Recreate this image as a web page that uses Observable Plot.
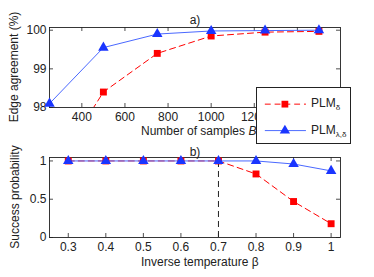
<!DOCTYPE html>
<html><head><meta charset="utf-8">
<script src="https://cdn.jsdelivr.net/npm/d3@7"></script>
<script src="https://cdn.jsdelivr.net/npm/@observablehq/plot@0.6"></script>
<style>
body{margin:0;background:#fff;}
#wrap{position:relative;width:374px;height:277px;overflow:hidden;font-family:"Liberation Sans",Arial,sans-serif;}
#wrap svg{position:absolute;left:0;}
.lbl{position:absolute;font-size:12px;color:#222;white-space:nowrap;}
#legend{position:absolute;left:256px;top:87px;width:95px;height:57px;border:1px solid #222;background:#fff;box-sizing:border-box;}
#legend svg{position:absolute;left:0;top:0;}
</style></head>
<body><div id="wrap"></div>
<script>
// Panel a data
const samplesB = [250, 500, 750, 1000, 1250, 1500];
const plmDeltaA = [96.2, 98.4, 99.4, 99.85, 99.95, 99.97];
const plmLambdaDeltaA = [98.1, 99.55, 99.9, 99.98, 99.99, 100.0];
const ticksA_x = [400, 600, 800, 1000, 1200, 1400];
const ticksA_y = [98, 99, 100];
// Panel b data
const beta = [0.3, 0.4, 0.5, 0.6, 0.7, 0.8, 0.9, 1.0];
const plmDeltaB = [1, 1, 1, 1, 1, 0.83, 0.47, 0.18];
const plmLambdaDeltaB = [1, 1, 1, 1, 1, 1, 0.96, 0.87];
const ticksB_x = [0.3, 0.4, 0.5, 0.6, 0.7, 0.8, 0.9, 1];
const ticksB_y = [0, 0.5, 1];
const betaCritical = [0.7];
const seriesNames = ["PLM_δ", "PLM_λ,δ"];

const RED = "#ff0000", BLUE = "#1a35ff", BLUEL = "#4a68ff";
const W = 374, ML = 49, MR = 34;
const innerW = W - ML - MR;
const fmt = d => String(+(+d).toFixed(2));

function ticksMarks(xt, yt, innerH) {
  const L = 4;
  return [
    Plot.tickY(yt, {y: d => d, insetRight: innerW - L, stroke: "#222", strokeWidth: 0.8}),
    Plot.tickY(yt, {y: d => d, insetLeft: innerW - L, stroke: "#222", strokeWidth: 0.8}),
    Plot.tickX(xt, {x: d => d, insetTop: innerH - L, stroke: "#222", strokeWidth: 0.8}),
    Plot.tickX(xt, {x: d => d, insetBottom: innerH - L, stroke: "#222", strokeWidth: 0.8}),
    Plot.frame({stroke: "#222", strokeWidth: 0.9})
  ];
}

const rowsA = samplesB.map((b, i) => ({b, d: plmDeltaA[i], ld: plmLambdaDeltaA[i]}));
const HA = 140, MTA = 27, MBA = 33;
const plotA = Plot.plot({
  width: W, height: HA, marginLeft: ML, marginRight: MR, marginTop: MTA, marginBottom: MBA,
  style: {fontFamily: "Liberation Sans, Arial, sans-serif", fontSize: "12px", color: "#222", background: "transparent"},
  x: {domain: [250, 1600], ticks: ticksA_x, tickFormat: fmt, tickSize: 0, tickPadding: 5, label: null},
  y: {domain: [98, 100.07], ticks: ticksA_y, tickFormat: fmt, tickSize: 0, tickPadding: 3, label: null},
  marks: [
    ...ticksMarks(ticksA_x, ticksA_y, HA - MTA - MBA),
    Plot.line(rowsA, {x: "b", y: "d", stroke: RED, strokeWidth: 1, strokeDasharray: "6,4", clip: true}),
    Plot.line(rowsA, {x: "b", y: "ld", stroke: BLUEL, strokeWidth: 1, clip: true}),
    Plot.dot(rowsA.filter(r => r.d >= 98), {x: "b", y: "d", symbol: "square", r: 3.9, fill: RED}),
    Plot.dot(rowsA, {x: "b", y: "ld", symbol: "triangle", r: 3.9, fill: BLUE}),
    Plot.text(["a)"], {frameAnchor: "top", dy: -12, fontSize: 12, fill: "#222"})
  ]
});
plotA.style.top = "0px";

const rowsB = beta.map((x, i) => ({x, d: plmDeltaB[i], ld: plmLambdaDeltaB[i]}));
const HB = 137, MTB = 17, MBB = 40;
const plotB = Plot.plot({
  width: W, height: HB, marginLeft: ML, marginRight: MR, marginTop: MTB, marginBottom: MBB,
  style: {fontFamily: "Liberation Sans, Arial, sans-serif", fontSize: "12px", color: "#222", background: "transparent"},
  x: {domain: [0.25, 1.025], ticks: ticksB_x, tickFormat: fmt, tickSize: 0, tickPadding: 5, label: null},
  y: {domain: [0, 1.045], ticks: ticksB_y, tickFormat: fmt, tickSize: 0, tickPadding: 3, label: null},
  marks: [
    ...ticksMarks(ticksB_x, ticksB_y, HB - MTB - MBB),
    Plot.ruleX(betaCritical, {x: d => d, y1: 0, y2: 1, stroke: "#222", strokeWidth: 1, strokeDasharray: "6,4"}),
    Plot.line(rowsB, {x: "x", y: "d", stroke: RED, strokeWidth: 1, strokeDasharray: "6,4"}),
    Plot.line(rowsB, {x: "x", y: "ld", stroke: BLUEL, strokeWidth: 1}),
    Plot.dot(rowsB, {x: "x", y: "d", symbol: "square", r: 3.9, fill: RED}),
    Plot.dot(rowsB, {x: "x", y: "ld", symbol: "triangle", r: 3.9, fill: BLUE}),
    Plot.text(["b)"], {frameAnchor: "top", dy: -10, fontSize: 12, fill: "#222"})
  ]
});
plotB.style.top = "140px";

const wrap = document.getElementById("wrap");
wrap.appendChild(plotA);
wrap.appendChild(plotB);

function label(html, css) {
  const d = document.createElement("div");
  d.className = "lbl";
  d.innerHTML = html;
  Object.assign(d.style, css);
  wrap.appendChild(d);
  return d;
}
label("Number of samples <i>B</i>", {left: "141px", top: "124px"});
label("Inverse temperature β", {left: "141px", top: "255px"});
label("Edge agreement (%)", {left: "14px", top: "67px", transform: "translate(-50%,-50%) rotate(-90deg)"});
label("Success probability", {left: "15px", top: "197px", transform: "translate(-50%,-50%) rotate(-90deg)"});

// Legend
const legend = document.createElement("div");
legend.id = "legend";
const legendRows = [
  {i: 0, color: RED, symbol: "square", dash: "6,4", stroke: RED},
  {i: 1, color: BLUE, symbol: "triangle", dash: null, stroke: BLUEL}
];
const legendPlot = Plot.plot({
  width: 95, height: 57, margin: 0,
  style: {background: "transparent"},
  x: {domain: [0, 95], axis: null},
  y: {domain: [0, 57], axis: null, reverse: true},
  marks: [
    Plot.ruleY(legendRows.filter(r => r.dash), {y: d => 16 + d.i * 27, x1: 8, x2: 50, stroke: d => d.stroke, strokeDasharray: "6,4", strokeWidth: 1}),
    Plot.ruleY(legendRows.filter(r => !r.dash), {y: d => 16 + d.i * 27, x1: 8, x2: 50, stroke: d => d.stroke, strokeWidth: 1}),
    Plot.dot(legendRows, {x: 28, y: d => 16 + d.i * 27, symbol: d => d.symbol, r: 3.9, fill: d => d.color})
  ]
});
legend.appendChild(legendPlot);
const subs = ["δ", "λ,δ"];
seriesNames.forEach((n, i) => {
  const t = document.createElement("div");
  t.className = "lbl";
  t.innerHTML = "PLM<sub style='font-size:8px;vertical-align:-3px'>" + subs[i] + "</sub>";
  t.title = n;
  Object.assign(t.style, {left: "54px", top: (8 + i * 27) + "px"});
  legend.appendChild(t);
});
wrap.appendChild(legend);
</script></body></html>
